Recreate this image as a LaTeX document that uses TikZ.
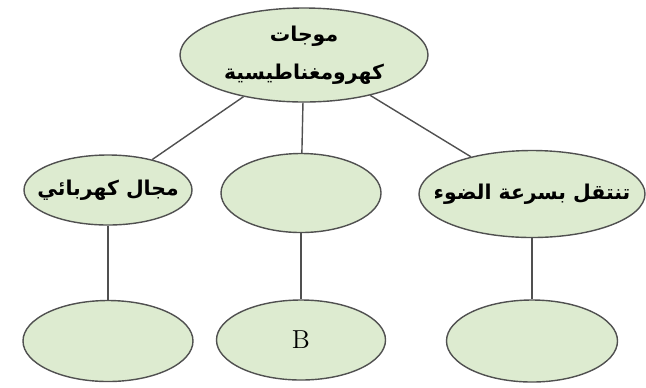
\documentclass[tikz,border=0pt]{standalone}
\usepackage{fontspec}
\usepackage{xcolor}
\usepackage{tikz}
\usetikzlibrary{shapes.geometric}
\newfontfamily\arabicfont[Script=Arabic]{DejaVu Sans}
\TeXXeTstate=1
\definecolor{bolgroen}{RGB}{221,235,208}
\definecolor{lijngrijs}{RGB}{80,80,80}

\tikzset{
    bol/.style={ellipse, draw=lijngrijs, line width=0.7pt, fill=bolgroen,
        inner sep=0pt},
    tekst/.style={font=\arabicfont\bfseries\fontsize{10.2}{19}\selectfont, align=center},
    verbinding/.style={draw=lijngrijs, line width=0.7pt}
}

\begin{document}
\begin{tikzpicture}[x=0.5pt,y=-0.5pt]

    % Kader
    \useasboundingbox (0,0) rectangle (646,387);

    % Bovenste bol
    \node[bol, minimum width=124pt, minimum height=47pt,
        label={[tekst]center:{\beginR موجات\endR\\\beginR كهرومغناطيسية\endR}}] (golven) at (304,55) {};

    % Middelste rij
    \node[bol, minimum width=84pt, minimum height=35pt,
        label={[tekst]center:{\beginR مجال كهربائي\endR}}] (veld) at (108,190) {};
    \node[bol, minimum width=80pt, minimum height=39.5pt] (leeg) at (301,193) {};
    \node[bol, minimum width=113pt, minimum height=43.5pt,
        label={[tekst]center:{\beginR تنتقل بسرعة الضوء\endR}}] (licht) at (532,194) {};

    % Onderste rij
    \node[bol, minimum width=85pt, minimum height=40.5pt] (onderL) at (108,341) {};
    \node[bol, font=\fontsize{13}{15}\selectfont, minimum width=84.5pt, minimum height=40pt] (onderB) at (301,340) {B};
    \node[bol, minimum width=85.5pt, minimum height=41pt] (onderR) at (532,341) {};

    % Lijnen
    \foreach \boven/\onder in {golven/veld, golven/leeg, golven/licht, veld/onderL, leeg/onderB, licht/onderR} {
        \draw[verbinding] (\boven) -- (\onder);
    }

\end{tikzpicture}
\end{document}
